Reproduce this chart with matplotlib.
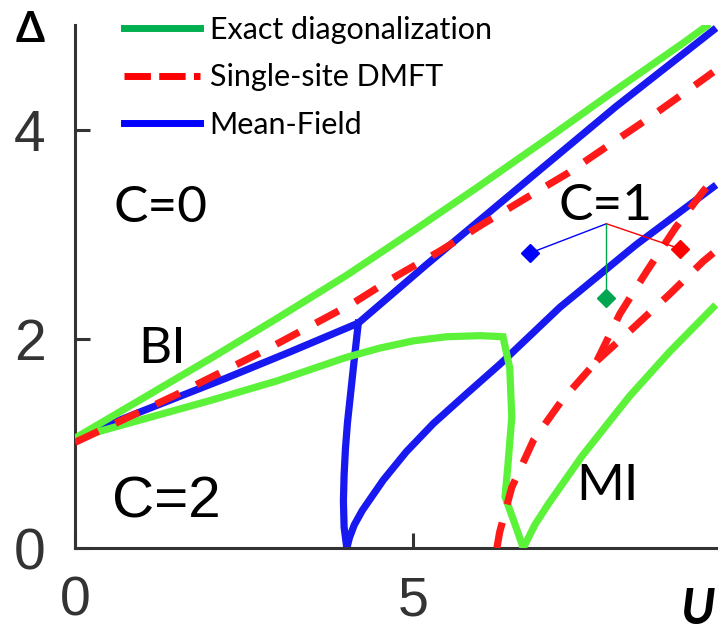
import matplotlib
matplotlib.use('Agg')
import matplotlib.pyplot as plt
from matplotlib.lines import Line2D

# exact diagonalization (green)
ed_top_u = [0, 1, 2, 3, 4, 5, 6, 7, 8, 9.0, 9.34]
ed_top_d = [1.05, 1.43, 1.81, 2.20, 2.60, 3.03, 3.47, 3.92, 4.38, 4.83, 4.99]
ed_mid_u = [0, 1, 2, 3, 4, 4.5, 5, 5.5, 6.0, 6.33, 6.43, 6.46, 6.40, 6.36, 6.5, 6.63]
ed_mid_d = [1.05, 1.23, 1.41, 1.60, 1.82, 1.91, 1.98, 2.02, 2.03, 2.02, 1.72, 1.25, 0.77, 0.49, 0.24, 0.0]
ed_mi_u = [6.63, 6.8, 7.0, 7.5, 8.2, 8.8, 9.44]
ed_mi_d = [0.0, 0.22, 0.42, 0.88, 1.45, 1.88, 2.30]

# single-site DMFT (red)
dm_top_u = [0, 1.48, 2.81, 4.11, 4.70, 5.40, 6.04, 6.63, 7.28, 7.87, 8.51, 9.14, 9.44]
dm_top_d = [1.01, 1.46, 1.89, 2.34, 2.58, 2.84, 3.10, 3.33, 3.58, 3.84, 4.12, 4.41, 4.55]
dm_low_u = [6.24, 6.28, 6.46, 6.78, 7.20, 7.72]
dm_low_d = [0.0, 0.15, 0.58, 1.03, 1.41, 1.79]
dm_a_u = [7.72, 8.06, 8.46, 8.88, 9.29, 9.44]
dm_a_d = [1.79, 2.24, 2.65, 3.06, 3.41, 3.52]
dm_b_u = [7.72, 8.25, 8.80, 9.29, 9.44]
dm_b_d = [1.79, 2.10, 2.43, 2.74, 2.82]

# mean-field (blue)
mf_top_u = [0, 1, 2.22, 3.2, 4.19, 5.2, 6.7, 8.0, 9.44]
mf_top_d = [1.05, 1.31, 1.62, 1.88, 2.15, 2.71, 3.52, 4.22, 4.95]
mf_vert_u = [4.19, 4.13, 4.08, 4.03, 4.0, 3.98, 3.97, 3.98, 4.02]
mf_vert_d = [2.15, 1.8, 1.5, 1.2, 0.95, 0.7, 0.45, 0.2, 0.0]
mf_low_u = [4.02, 4.06, 4.13, 4.25, 4.56, 4.9, 5.3, 5.8, 6.29, 7.17, 8.3, 9.44]
mf_low_d = [0.0, 0.1, 0.22, 0.36, 0.65, 0.92, 1.19, 1.48, 1.76, 2.30, 2.90, 3.45]

# little lattice sketch next to C=1
site_c = (7.86, 3.10)
site_u = [6.73, 8.95, 7.86]
site_d = [2.82, 2.86, 2.39]
site_col = ['#0000ff', '#ff0000', '#00a650']

x_ticks = [0, 5]
y_ticks = [0, 2, 4]

G = '#5cf23a'
R = '#ff1a1a'
B = '#1818f0'
lw = 5.2

fig = plt.figure(figsize=(7.18, 6.32), dpi=100)
ax = fig.add_axes([75/718, 1-548/632, 643/718, 523/632])

for u, d in [(mf_top_u, mf_top_d), (mf_vert_u, mf_vert_d), (mf_low_u, mf_low_d)]:
    ax.plot(u, d, color=B, lw=lw, zorder=2, solid_joinstyle='miter')
for u, d in [(ed_top_u, ed_top_d), (ed_mid_u, ed_mid_d), (ed_mi_u, ed_mi_d)]:
    ax.plot(u, d, color=G, lw=lw, zorder=3, solid_joinstyle='miter')
for u, d in [(dm_top_u, dm_top_d), (dm_low_u, dm_low_d), (dm_a_u, dm_a_d), (dm_b_u, dm_b_d)]:
    ax.plot(u, d, color=R, lw=lw, ls=(0, (3.6, 2.6)), zorder=4)

for u, d, c in zip(site_u, site_d, site_col):
    ax.plot([site_c[0], u], [site_c[1], d], color=c, lw=1, zorder=5)
    ax.plot(u, d, marker='D', ms=9, color=c, ls='none', zorder=6)

ax.set_xlim(0, 9.51)
ax.set_ylim(0, 5)
ax.set_xticks(x_ticks)
ax.set_yticks(y_ticks)
ax.spines['top'].set_visible(False)
ax.spines['right'].set_visible(False)
for s in ['left', 'bottom']:
    ax.spines[s].set_linewidth(2.2)
    ax.spines[s].set_color('#333333')
ax.tick_params(direction='in', length=11, width=2.2, color='#333333',
               labelcolor='#333333', labelsize=41)
ax.tick_params(axis='y', pad=21)
ax.tick_params(axis='x', pad=20, labelsize=40)
for t in ax.get_xticklabels() + ax.get_yticklabels():
    t.set_family('Liberation Sans')

cal = 'Lato'
ax.text(1.27, 3.12, 'C=0', family=cal, fontsize=37, ha='center', va='baseline')
ax.text(1.29, 1.77, 'BI', family=cal, fontsize=37, ha='center', va='baseline')
ax.text(1.35, 0.29, 'C=2', family='Liberation Sans', fontsize=42, ha='center', va='baseline')
ax.text(7.87, 0.46, 'MI', family=cal, fontsize=37, ha='center', va='baseline')
ax.text(7.84, 3.14, 'C=1', family=cal, fontsize=37, ha='center', va='baseline')

fig.text(30/718, 1-30/632, 'Δ', family=['Lato', 'DejaVu Sans'], fontweight='bold',
         fontsize=30, ha='center', va='center')
fig.text(697/718, 1-624/632, 'U', family=cal, fontweight='bold', style='italic',
         fontsize=36, ha='center', va='baseline')

handles = [Line2D([], [], color='#00b050', lw=5),
           Line2D([], [], color='#ff0000', lw=5, ls=(0, (3.8, 1.2))),
           Line2D([], [], color='#0000ff', lw=5)]
labels = ['Exact diagonalization', 'Single-site DMFT', 'Mean-Field']
fig.legend(handles, labels, loc='upper left', bbox_to_anchor=(124/718, 1-16/632),
           frameon=False, prop={'family': cal, 'size': 22}, handlelength=2.5,
           handletextpad=0.3, labelspacing=0.63, borderpad=0, borderaxespad=0)

fig.savefig('out.png', dpi=100)
